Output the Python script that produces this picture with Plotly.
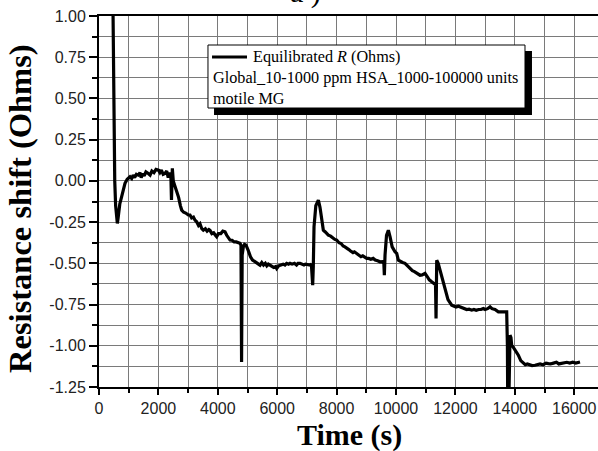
import plotly.graph_objects as go

# Equilibrated resistance shift vs time (motile MG, HSA additions)
time_s = [
    440, 470, 500, 530, 560, 600, 617, 640, 700, 763, 820, 875, 950, 1044, 1100,
    1150, 1200, 1260, 1324, 1380, 1420, 1470, 1520, 1580, 1660, 1720, 1780, 1850,
    1920, 1997, 2050, 2100, 2160, 2222, 2280, 2330, 2380, 2420, 2440, 2455, 2469,
    2500, 2560, 2615, 2680, 2740, 2784, 2850, 2920, 3007, 3064, 3120, 3180, 3232,
    3288, 3350, 3400, 3460, 3512, 3580, 3640, 3700, 3737, 3800, 3860, 3920, 3961,
    4020, 4100, 4170, 4242, 4300, 4360, 4411, 4480, 4550, 4620, 4700, 4747, 4780,
    4800, 4820, 4860, 4900, 4949, 5020, 5100, 5170, 5252, 5320, 5380, 5421, 5480,
    5540, 5600, 5650, 5700, 5758, 5820, 5880, 5950, 5982, 6050, 6120, 6200, 6260,
    6319, 6380, 6431, 6500, 6580, 6650, 6700, 6768, 6830, 6900, 6950, 7020, 7104,
    7150, 7194, 7215, 7239, 7300, 7385, 7440, 7500, 7553, 7620, 7680, 7721, 7800,
    7880, 7940, 8002, 8080, 8150, 8220, 8280, 8339, 8400, 8470, 8550, 8600, 8676,
    8750, 8820, 8880, 8950, 9012, 9080, 9150, 9230, 9300, 9380, 9461, 9540, 9590,
    9607, 9630, 9680, 9742, 9800, 9870, 9966, 10023, 10079, 10150, 10220, 10303,
    10380, 10430, 10471, 10550, 10620, 10700, 10760, 10808, 10880, 10976, 11050,
    11120, 11201, 11280, 11330, 11347, 11358, 11370, 11420, 11480, 11550, 11650,
    11750, 11874, 11950, 12020, 12100, 12155, 12230, 12300, 12380, 12460, 12548,
    12620, 12700, 12780, 12860, 12940, 13000, 13080, 13165, 13230, 13333, 13445,
    13550, 13670, 13726, 13750, 13760, 13800, 13838, 13870, 13894, 13950, 14020,
    14118, 14200, 14287, 14350, 14420, 14500, 14580, 14680, 14760, 14850, 14950,
    15050, 15128, 15200, 15300, 15400, 15480, 15578, 15650, 15750, 15850, 15950,
    16050, 16195,
]
resistance_shift = [
    1.60, 0.90, 0.40, 0.00, -0.15, -0.24, -0.258, -0.23, -0.14, -0.096, -0.05,
    -0.015, 0.01, 0.025, 0.015, 0.035, 0.02, 0.04, 0.035, 0.05, 0.02, 0.045, 0.03,
    0.055, 0.045, 0.035, 0.06, 0.05, 0.07, 0.066, 0.05, 0.065, 0.04, 0.045, 0.06,
    0.02, 0.05, 0.03, -0.115, 0.02, 0.076, 0.0, -0.03, -0.056, -0.10, -0.15,
    -0.177, -0.19, -0.195, -0.207, -0.207, -0.225, -0.22, -0.238, -0.248, -0.27,
    -0.26, -0.29, -0.299, -0.29, -0.305, -0.295, -0.30, -0.32, -0.315, -0.33,
    -0.339, -0.32, -0.32, -0.305, -0.309, -0.33, -0.35, -0.359, -0.36, -0.37,
    -0.37, -0.375, -0.379, -0.39, -1.098, -0.45, -0.40, -0.385, -0.39, -0.42,
    -0.46, -0.48, -0.491, -0.50, -0.51, -0.511, -0.495, -0.51, -0.50, -0.515,
    -0.505, -0.511, -0.52, -0.525, -0.52, -0.531, -0.515, -0.51, -0.505, -0.51,
    -0.50, -0.505, -0.50, -0.505, -0.50, -0.51, -0.50, -0.50, -0.505, -0.51,
    -0.505, -0.51, -0.511, -0.505, -0.632, -0.52, -0.278, -0.15, -0.117, -0.16,
    -0.25, -0.299, -0.31, -0.32, -0.329, -0.335, -0.35, -0.355, -0.359, -0.375,
    -0.38, -0.395, -0.40, -0.41, -0.415, -0.425, -0.435, -0.43, -0.44, -0.45,
    -0.46, -0.455, -0.465, -0.47, -0.47, -0.475, -0.47, -0.48, -0.485, -0.491,
    -0.49, -0.50, -0.572, -0.45, -0.33, -0.299, -0.34, -0.40, -0.43, -0.44,
    -0.481, -0.49, -0.495, -0.50, -0.515, -0.52, -0.531, -0.545, -0.55, -0.56,
    -0.565, -0.572, -0.57, -0.561, -0.58, -0.60, -0.612, -0.625, -0.63, -0.834,
    -0.60, -0.481, -0.50, -0.54, -0.60, -0.663, -0.72, -0.754, -0.76, -0.765,
    -0.76, -0.764, -0.77, -0.775, -0.78, -0.778, -0.784, -0.78, -0.785, -0.78,
    -0.78, -0.774, -0.78, -0.775, -0.764, -0.775, -0.78, -0.794, -0.795, -0.794,
    -0.794, -1.00, -1.32, -1.32, -0.936, -0.95, -0.996, -1.01, -1.03, -1.057,
    -1.09, -1.108, -1.115, -1.11, -1.115, -1.12, -1.118, -1.115, -1.11, -1.115,
    -1.105, -1.108, -1.11, -1.105, -1.10, -1.11, -1.108, -1.105, -1.10, -1.105,
    -1.10, -1.105, -1.098,
]

x_ticks = [0, 2000, 4000, 6000, 8000, 10000, 12000, 14000, 16000]
y_ticks = [1.00, 0.75, 0.50, 0.25, 0.00, -0.25, -0.50, -0.75, -1.00, -1.25]
y_tick_text = [f"{v:.2f}" for v in y_ticks]

legend_lines = [
    "Equilibrated <i>R</i> (Ohms)",
    "Global_10-1000 ppm HSA_1000-100000 units",
    "motile MG",
]

SERIF = "Liberation Serif, Times New Roman, serif"
SANS = "Liberation Sans, Arial, sans-serif"
GRID = "#7a7a7a"

fig = go.Figure()
fig.add_trace(go.Scatter(
    x=time_s, y=resistance_shift, mode="lines",
    line=dict(color="black", width=3.2), showlegend=False,
))

fig.update_layout(
    width=598, height=451,
    margin=dict(l=99, r=0, t=16, b=64),
    paper_bgcolor="white", plot_bgcolor="white",
    showlegend=False,
    xaxis=dict(
        range=[0, 16800], tickvals=x_ticks, ticktext=[str(v) for v in x_ticks],
        ticks="outside", ticklen=6, tickwidth=2, tickcolor="black",
        showline=True, linecolor="black", linewidth=2, mirror=True,
        showgrid=True, gridcolor=GRID, gridwidth=1, zeroline=False,
        tickfont=dict(family=SANS, size=16, color="#222"),
        minor=dict(dtick=1000, tick0=0, ticks="outside", ticklen=4,
                   tickcolor="black", showgrid=True, gridcolor=GRID, gridwidth=1),
    ),
    yaxis=dict(
        range=[-1.25, 1.00], tickvals=y_ticks, ticktext=y_tick_text,
        ticks="outside", ticklen=8, tickwidth=2, tickcolor="black",
        showline=True, linecolor="black", linewidth=2,
        showgrid=True, gridcolor=GRID, gridwidth=1, zeroline=False,
        tickfont=dict(family=SANS, size=16, color="#222"),
        minor=dict(dtick=0.125, tick0=0, ticks="outside", ticklen=5,
                   tickcolor="black", showgrid=True, gridcolor=GRID, gridwidth=1),
    ),
)

# Legend box with drop shadow
fig.add_shape(type="rect", xref="paper", yref="paper",
              x0=0.2305, x1=0.8677, y0=0.7332, y1=0.9057,
              fillcolor="black", line=dict(width=0))
fig.add_shape(type="rect", xref="paper", yref="paper",
              x0=0.2184, x1=0.8537, y0=0.7520, y1=0.9218,
              fillcolor="white", line=dict(color="black", width=1))
fig.add_shape(type="line", xref="paper", yref="paper",
              x0=0.2265, x1=0.2966, y0=0.8895, y1=0.8895,
              line=dict(color="black", width=3))
legend_pos = [(0.3046, 0.8895), (0.2239, 0.8329), (0.2239, 0.7763)]
for txt, (lx, ly) in zip(legend_lines, legend_pos):
    fig.add_annotation(text=txt, xref="paper", yref="paper", x=lx, y=ly,
                       xanchor="left", yanchor="middle", showarrow=False,
                       font=dict(family=SERIF, size=16.2, color="black"))

# Axis titles
fig.add_annotation(text="<b>Time (s)</b>", xref="paper", yref="paper",
                   x=0.503, y=-0.1300, xanchor="center", yanchor="middle",
                   showarrow=False, font=dict(family=SERIF, size=30, color="black"))
fig.add_annotation(text="<b>Resistance shift (Ohms)</b>", xref="paper", yref="paper",
                   x=-0.1583, y=0.4800, xanchor="center", yanchor="middle",
                   textangle=-90, showarrow=False,
                   font=dict(family=SERIF, size=32.5, color="black"))
# Panel label
fig.add_annotation(text="a )", xref="paper", yref="paper",
                   x=0.379, y=1.0135, xanchor="left", yanchor="bottom",
                   showarrow=False, font=dict(family=SERIF, size=30, color="black"))

fig.write_html("out.html")
